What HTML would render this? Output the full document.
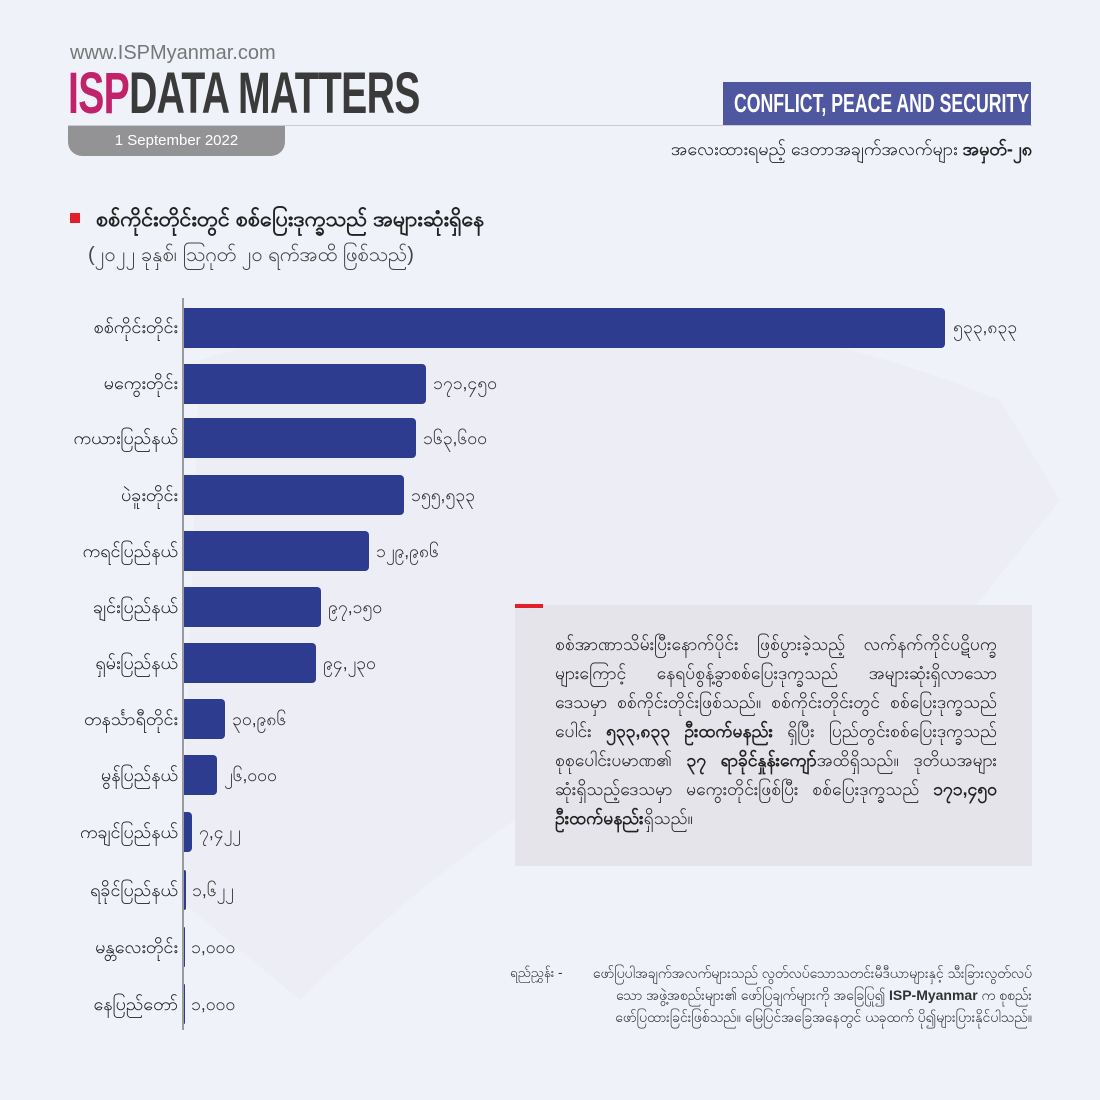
<!DOCTYPE html>
<html><head><meta charset="utf-8"><style>
*{margin:0;padding:0;box-sizing:border-box}
body{width:1100px;height:1100px;background:#eff2f9;position:relative;overflow:hidden;font-family:"Liberation Sans","Noto Sans CJK SC",sans-serif;color:#222}
.a{position:absolute;white-space:nowrap}
.bar{position:absolute;left:184px;height:40px;background:#2d3c8f;border-radius:0 4px 4px 0}
.lbl{position:absolute;right:922px;font-size:18px;color:#222;white-space:nowrap;text-align:right}
.val{position:absolute;font-size:17.5px;color:#333;white-space:nowrap}
.tl{position:absolute;left:555px;width:442px;font-size:17.5px;color:#222;white-space:nowrap;text-align:justify;text-align-last:justify}
</style></head><body>
<svg class="a" style="left:0;top:0" width="1100" height="1100"><path d="M200 360 Q600 240 1000 400 L1060 500 L900 700 L700 720 Q500 800 300 1000 L180 900 Z" fill="#e8e6ee" opacity="0.35"/></svg>
<div class="a" style="left:70px;top:42px;font-size:20px;color:#777">www.ISPMyanmar.com</div>
<div class="a" style="left:68px;top:62px;font-size:58px;font-weight:bold;letter-spacing:-1px;transform:scaleX(0.675);transform-origin:left top;line-height:64px"><span style="color:#c2226a">ISP</span><span style="color:#3a3a3a">DATA MATTERS</span></div>
<div class="a" style="left:68px;top:125px;width:964px;height:1px;background:#c8cad4"></div>
<div class="a" style="left:68px;top:126px;width:217px;height:30px;background:#939396;border-radius:0 0 14px 14px;color:#fff;font-size:15px;text-align:center;line-height:30px">1 September 2022</div>
<div class="a" style="left:723px;top:82px;width:308px;height:43px;background:#4f57a1;color:#fff;font-size:26px;font-weight:bold;line-height:43px;overflow:hidden"><span style="display:inline-block;transform:scaleX(0.68);transform-origin:left center;margin-left:11px">CONFLICT, PEACE AND SECURITY</span></div>
<div class="a" style="right:68px;top:137px;font-size:18px">အလေးထားရမည့် ဒေတာအချက်အလက်များ <b>အမှတ်-၂၈</b></div>
<div class="a" style="left:70px;top:213px;width:10px;height:10px;background:#e3202a"></div>
<div class="a" style="left:96px;top:206px;font-size:21.5px;font-weight:bold">စစ်ကိုင်းတိုင်းတွင် စစ်ပြေးဒုက္ခသည် အများဆုံးရှိနေ</div>
<div class="a" style="left:88px;top:241px;font-size:20px;color:#444">(၂၀၂၂ ခုနှစ်၊ ဩဂုတ် ၂၀ ရက်အထိ ဖြစ်သည်)</div>
<div class="a" style="left:182px;top:298px;width:2px;height:732px;background:#9a9aa0"></div>

<div class="bar" style="top:308px;width:761px"></div><div class="lbl" style="top:315px">စစ်ကိုင်းတိုင်း</div><div class="val" style="left:953px;top:316px">၅၃၃,၈၃၃</div>
<div class="bar" style="top:364px;width:242px"></div><div class="lbl" style="top:371px">မကွေးတိုင်း</div><div class="val" style="left:433px;top:372px">၁၇၁,၄၅၀</div>
<div class="bar" style="top:418px;width:232px"></div><div class="lbl" style="top:426px">ကယားပြည်နယ်</div><div class="val" style="left:423px;top:427px">၁၆၃,၆၀၀</div>
<div class="bar" style="top:475px;width:220px"></div><div class="lbl" style="top:483px">ပဲခူးတိုင်း</div><div class="val" style="left:411px;top:484px">၁၅၅,၅၃၃</div>
<div class="bar" style="top:531px;width:185px"></div><div class="lbl" style="top:539px">ကရင်ပြည်နယ်</div><div class="val" style="left:376px;top:540px">၁၂၉,၉၈၆</div>
<div class="bar" style="top:587px;width:137px"></div><div class="lbl" style="top:595px">ချင်းပြည်နယ်</div><div class="val" style="left:328px;top:596px">၉၇,၁၅၀</div>
<div class="bar" style="top:643px;width:132px"></div><div class="lbl" style="top:651px">ရှမ်းပြည်နယ်</div><div class="val" style="left:323px;top:652px">၉၄,၂၃၀</div>
<div class="bar" style="top:699px;width:41px"></div><div class="lbl" style="top:707px">တနင်္သာရီတိုင်း</div><div class="val" style="left:232px;top:708px">၃၀,၉၈၆</div>
<div class="bar" style="top:755px;width:33px"></div><div class="lbl" style="top:763px">မွန်ပြည်နယ်</div><div class="val" style="left:224px;top:764px">၂၆,၀၀၀</div>
<div class="bar" style="top:812px;width:8px"></div><div class="lbl" style="top:820px">ကချင်ပြည်နယ်</div><div class="val" style="left:199px;top:821px">၇,၄၂၂</div>
<div class="bar" style="top:870px;width:2px"></div><div class="lbl" style="top:878px">ရခိုင်ပြည်နယ်</div><div class="val" style="left:192px;top:879px">၁,၆၂၂</div>
<div class="bar" style="top:927px;width:1px"></div><div class="lbl" style="top:935px">မန္တလေးတိုင်း</div><div class="val" style="left:191px;top:936px">၁,၀၀၀</div>
<div class="bar" style="top:984px;width:1px"></div><div class="lbl" style="top:992px">နေပြည်တော်</div><div class="val" style="left:191px;top:993px">၁,၀၀၀</div>

<div class="a" style="left:515px;top:605px;width:517px;height:261px;background:#e4e4ea"></div>
<div class="a" style="left:515px;top:604px;width:28px;height:4px;background:#e3202a"></div>
<div class="tl" style="top:633px">စစ်အာဏာသိမ်းပြီးနောက်ပိုင်း ဖြစ်ပွားခဲ့သည့် လက်နက်ကိုင်ပဋိပက္ခ</div>
<div class="tl" style="top:662px">များကြောင့် နေရပ်စွန့်ခွာစစ်ပြေးဒုက္ခသည် အများဆုံးရှိလာသော</div>
<div class="tl" style="top:691px">ဒေသမှာ စစ်ကိုင်းတိုင်းဖြစ်သည်။ စစ်ကိုင်းတိုင်းတွင် စစ်ပြေးဒုက္ခသည်</div>
<div class="tl" style="top:720px">ပေါင်း <b>၅၃၃,၈၃၃ ဦးထက်မနည်း</b> ရှိပြီး ပြည်တွင်းစစ်ပြေးဒုက္ခသည်</div>
<div class="tl" style="top:749px">စုစုပေါင်းပမာဏ၏ <b>၃၇ ရာခိုင်နှုန်းကျော်</b>အထိရှိသည်။ ဒုတိယအများ</div>
<div class="tl" style="top:778px">ဆုံးရှိသည့်ဒေသမှာ မကွေးတိုင်းဖြစ်ပြီး စစ်ပြေးဒုက္ခသည် <b>၁၇၁,၄၅၀</b></div>
<div class="tl" style="top:807px;text-align-last:left"><b>ဦးထက်မနည်း</b>ရှိသည်။</div>

<div class="a" style="left:510px;top:964px;font-size:13.5px;color:#333">ရည်ညွှန်း -</div>
<div class="a" style="right:68px;top:962px;font-size:14px;color:#333;text-align:right;line-height:22px">ဖော်ပြပါအချက်အလက်များသည် လွတ်လပ်သောသတင်းမီဒီယာများနှင့် သီးခြားလွတ်လပ်<br>သော အဖွဲ့အစည်းများ၏ ဖော်ပြချက်များကို အခြေပြု၍ <b>ISP-Myanmar</b> က စုစည်း<br>ဖော်ပြထားခြင်းဖြစ်သည်။ မြေပြင်အခြေအနေတွင် ယခုထက် ပို၍များပြားနိုင်ပါသည်။</div>
</body></html>
